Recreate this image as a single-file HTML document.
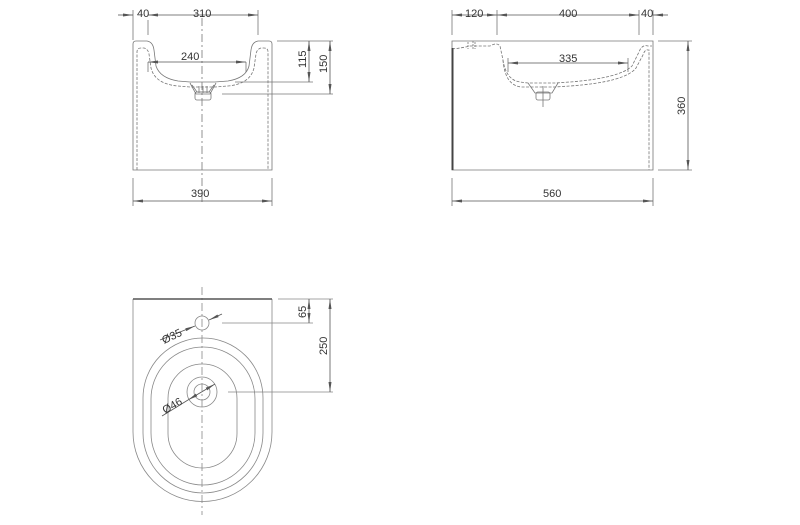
<!DOCTYPE html>
<html><head><style>body{margin:0;background:#fff}svg{display:block}text{font-family:"Liberation Sans",sans-serif;font-size:11px;fill:#333}</style></head><body>
<svg width="800" height="525" viewBox="0 0 800 525" xmlns="http://www.w3.org/2000/svg">
<defs><marker id="a" viewBox="0 0 10 6" refX="10" refY="3" markerWidth="10" markerHeight="6" orient="auto-start-reverse" markerUnits="userSpaceOnUse"><path d="M0,1.5 L10,3 L0,4.5z" fill="#555"/></marker></defs>
<g fill="none" stroke="#777" stroke-width="0.8">
<!-- FRONT VIEW -->
<path d="M133,170 V44 Q133,41 136,41 H147 Q153,42 154,50 L156,66 Q160,78 178,81 L190,82 H215 L228,81 Q246,78 249,66 L251,50 Q252,42 258,41 H269 Q272,41 272,44 V170 Z"/>
<path d="M137,170 V52 Q137,48 141,48 H144 Q148,49 149,54 L151,68 Q155,84 178,86 L190,87 H215 L228,86 Q250,84 254,68 L256,54 Q257,49 261,48 H264 Q268,48 268,52 V170" stroke-dasharray="3,1.5"/>
<path d="M190,83 L196,94 H210 L216,83 M192,85 L197,92 H209 L214,85"/>
<rect x="195" y="92" width="16" height="8" rx="2"/>
<path d="M199,86 V93 M203,86 V93 M207,86 V93"/>
<path d="M202,18 V205" stroke-dasharray="8,3,2,3"/>
<!-- dims front -->
<path d="M133,10 V40 M148,20 V35 M258,10 V35 M133,178 V206 M272,178 V206"/>
<path d="M148,62 V72 M246,62 V72"/>
<path d="M277,41 H333 M235,82 H313 M222,94 H333"/>
</g>
<g stroke="#555" stroke-width="0.8" fill="none">
<line x1="118" y1="15" x2="133" y2="15" marker-end="url(#a)"/>
<line x1="148" y1="15" x2="258" y2="15" marker-start="url(#a)" marker-end="url(#a)"/>
<line x1="148" y1="62" x2="246" y2="62" marker-start="url(#a)" marker-end="url(#a)"/>
<line x1="133" y1="201" x2="272" y2="201" marker-start="url(#a)" marker-end="url(#a)"/>
<line x1="309" y1="41" x2="309" y2="82" marker-start="url(#a)" marker-end="url(#a)"/>
<line x1="330" y1="41" x2="330" y2="94" marker-start="url(#a)" marker-end="url(#a)"/>
</g>
<text x="137" y="17">40</text><text x="193" y="17">310</text><text x="181" y="60">240</text><text x="191" y="197">390</text>
<text transform="translate(306,68) rotate(-90)">115</text>
<text transform="translate(327,73) rotate(-90)">150</text>

<!-- SIDE VIEW -->
<g fill="none" stroke="#777" stroke-width="0.8">
<path d="M452,41 H653 V170 H452 Z"/>
<path d="M452,49 Q462,48 470,46 H490 Q497,42 500,46 L503,60 Q506,80 520,82 L528,83 H555 L570,82 Q620,78 632,66 L639,52 Q642,44 648,46 H652" stroke-dasharray="3,1.5"/>
<path d="M503,60 Q505,86 522,87 L528,87 H555 L570,86 Q625,82 636,68 L643,55 Q645,49 648,50 H649 V170" stroke-dasharray="3,1.5"/>
<path d="M468,42 V49 M475,42 V49 M473,41 V50" stroke-dasharray="2,1"/>
<path d="M528,83 L535,93 H552 L558,83"/>
<rect x="536" y="92" width="14" height="8" rx="2"/>
<path d="M543,86 V107"/>
<path d="M452,10 V35 M497,10 V35 M639,10 V35 M653,10 V35 M658,41 H692 M658,170 H692 M452,178 V206 M653,178 V206 M508,58 V72 M628,58 V72"/>
</g>
<line x1="452.5" y1="48" x2="452.5" y2="170" stroke="#444" stroke-width="2"/>
<g stroke="#555" stroke-width="0.8" fill="none">
<line x1="452" y1="15" x2="497" y2="15" marker-start="url(#a)" marker-end="url(#a)"/>
<line x1="497" y1="15" x2="639" y2="15" marker-start="url(#a)" marker-end="url(#a)"/>
<line x1="668" y1="15" x2="653" y2="15" marker-end="url(#a)"/>
<line x1="508" y1="63" x2="628" y2="63" marker-start="url(#a)" marker-end="url(#a)"/>
<line x1="688" y1="41" x2="688" y2="170" marker-start="url(#a)" marker-end="url(#a)"/>
<line x1="452" y1="201" x2="653" y2="201" marker-start="url(#a)" marker-end="url(#a)"/>
</g>
<text x="465" y="17">120</text><text x="559" y="17">400</text><text x="641" y="17">40</text><text x="559" y="62">335</text><text x="543" y="197">560</text>
<text transform="translate(685,115) rotate(-90)">360</text>

<!-- TOP VIEW -->
<g fill="none" stroke="#888" stroke-width="0.8">
<path d="M133,299 V432 A69.5,69.5 0 0 0 272,432 V299"/>
<rect x="143" y="338" width="120" height="155" rx="60" ry="60"/>
<rect x="151" y="347" width="104" height="138" rx="52" ry="52"/>
<rect x="168" y="364" width="69" height="104" rx="34.5" ry="34.5"/>
<circle cx="202" cy="392" r="15"/><circle cx="202" cy="392" r="8"/>
<circle cx="202" cy="323" r="7"/>
<path d="M202,287 V515" stroke-dasharray="8,3,2,3"/>
<path d="M278,299 H333 M222,323 H313 M228,392 H333"/>
</g>
<line x1="133" y1="299" x2="272" y2="299" stroke="#555" stroke-width="1.6"/>
<g stroke="#555" stroke-width="0.8" fill="none">
<line x1="309" y1="299" x2="309" y2="323" marker-start="url(#a)" marker-end="url(#a)"/>
<line x1="330" y1="299" x2="330" y2="392" marker-start="url(#a)" marker-end="url(#a)"/>
<line x1="160" y1="340" x2="195" y2="326" marker-end="url(#a)"/>
<line x1="222" y1="314" x2="209" y2="320" marker-end="url(#a)"/>
<line x1="162" y1="416" x2="188" y2="400" />
<line x1="188" y1="400" x2="215" y2="384" marker-start="url(#a)" marker-end="url(#a)"/>
</g>
<text transform="translate(164,344) rotate(-25)">Ø35</text>
<text transform="translate(165,414) rotate(-30)">Ø46</text>
<text transform="translate(306,318) rotate(-90)">65</text>
<text transform="translate(327,355) rotate(-90)">250</text>
</svg>
</body></html>
